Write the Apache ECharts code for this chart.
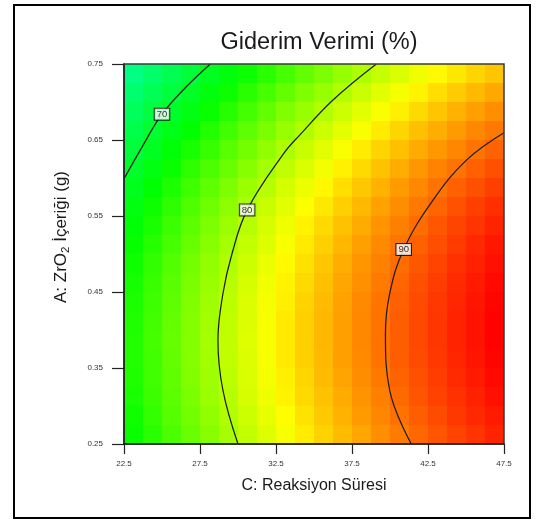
<!DOCTYPE html>
<html>
<head>
<meta charset="utf-8">
<script src="https://cdn.jsdelivr.net/npm/echarts@6/dist/echarts.min.js"></script>
<style>
  html, body { margin: 0; padding: 0; background: #fff; }
  #chart { width: 541px; height: 521px; }
</style>
</head>
<body>
<div id="chart"></div>
<script>
// Grid cell centres: C (reaction time) across, A (ZrO2 content, g) up
const cellTimes = [23.125, 24.375, 25.625, 26.875, 28.125, 29.375, 30.625, 31.875, 33.125, 34.375,
                   35.625, 36.875, 38.125, 39.375, 40.625, 41.875, 43.125, 44.375, 45.625, 46.875];
const cellContents = [0.2625, 0.2875, 0.3125, 0.3375, 0.3625, 0.3875, 0.4125, 0.4375, 0.4625, 0.4875,
                      0.5125, 0.5375, 0.5625, 0.5875, 0.6125, 0.6375, 0.6625, 0.6875, 0.7125, 0.7375];

// Removal efficiency (%) per cell, one row per A level, bottom row first
const removalRows = [
  [73.0, 74.4, 75.8, 77.1, 78.4, 79.7, 80.9, 82.1, 83.2, 84.3, 85.4, 86.4, 87.3, 88.3, 89.1, 90.0, 90.8, 91.5, 92.2, 92.9],
  [73.3, 74.8, 76.2, 77.5, 78.8, 80.1, 81.3, 82.5, 83.6, 84.7, 85.8, 86.8, 87.8, 88.7, 89.6, 90.4, 91.2, 92.0, 92.7, 93.3],
  [73.6, 75.1, 76.5, 77.8, 79.2, 80.4, 81.7, 82.8, 84.0, 85.1, 86.1, 87.1, 88.1, 89.0, 89.9, 90.8, 91.6, 92.3, 93.0, 93.7],
  [73.9, 75.3, 76.7, 78.1, 79.4, 80.6, 81.9, 83.1, 84.2, 85.3, 86.4, 87.4, 88.4, 89.3, 90.2, 91.0, 91.8, 92.6, 93.3, 94.0],
  [74.0, 75.4, 76.8, 78.2, 79.5, 80.8, 82.0, 83.2, 84.4, 85.5, 86.5, 87.6, 88.5, 89.5, 90.4, 91.2, 92.0, 92.8, 93.5, 94.2],
  [74.0, 75.5, 76.9, 78.2, 79.6, 80.8, 82.1, 83.3, 84.4, 85.5, 86.6, 87.6, 88.6, 89.5, 90.4, 91.3, 92.1, 92.9, 93.6, 94.3],
  [73.9, 75.4, 76.8, 78.2, 79.5, 80.8, 82.0, 83.2, 84.4, 85.5, 86.6, 87.6, 88.6, 89.5, 90.4, 91.3, 92.1, 92.9, 93.6, 94.3],
  [73.8, 75.2, 76.6, 78.0, 79.4, 80.6, 81.9, 83.1, 84.2, 85.4, 86.4, 87.5, 88.5, 89.4, 90.3, 91.2, 92.0, 92.8, 93.5, 94.2],
  [73.5, 75.0, 76.4, 77.8, 79.1, 80.4, 81.7, 82.9, 84.0, 85.1, 86.2, 87.3, 88.2, 89.2, 90.1, 91.0, 91.8, 92.6, 93.3, 94.0],
  [73.2, 74.7, 76.1, 77.5, 78.8, 80.1, 81.3, 82.6, 83.7, 84.8, 85.9, 87.0, 88.0, 88.9, 89.8, 90.7, 91.5, 92.3, 93.0, 93.7],
  [72.8, 74.2, 75.6, 77.0, 78.4, 79.7, 80.9, 82.1, 83.3, 84.4, 85.5, 86.6, 87.6, 88.5, 89.4, 90.3, 91.1, 91.9, 92.7, 93.4],
  [72.2, 73.7, 75.1, 76.5, 77.9, 79.2, 80.4, 81.7, 82.8, 84.0, 85.1, 86.1, 87.1, 88.1, 89.0, 89.8, 90.7, 91.5, 92.2, 92.9],
  [71.6, 73.1, 74.5, 75.9, 77.3, 78.6, 79.8, 81.1, 82.2, 83.4, 84.5, 85.5, 86.5, 87.5, 88.4, 89.3, 90.1, 90.9, 91.7, 92.4],
  [70.9, 72.4, 73.8, 75.2, 76.6, 77.9, 79.2, 80.4, 81.6, 82.7, 83.8, 84.9, 85.9, 86.8, 87.8, 88.6, 89.5, 90.3, 91.0, 91.7],
  [70.1, 71.6, 73.0, 74.5, 75.8, 77.1, 78.4, 79.6, 80.8, 81.9, 83.0, 84.1, 85.1, 86.1, 87.0, 87.9, 88.8, 89.5, 90.3, 91.0],
  [69.2, 70.7, 72.2, 73.6, 74.9, 76.3, 77.5, 78.8, 80.0, 81.1, 82.2, 83.3, 84.3, 85.3, 86.2, 87.1, 87.9, 88.7, 89.5, 90.2],
  [68.3, 69.8, 71.2, 72.6, 74.0, 75.3, 76.6, 77.8, 79.0, 80.1, 81.3, 82.3, 83.3, 84.3, 85.3, 86.2, 87.0, 87.8, 88.6, 89.3],
  [67.2, 68.7, 70.1, 71.6, 72.9, 74.2, 75.5, 76.8, 78.0, 79.1, 80.2, 81.3, 82.3, 83.3, 84.2, 85.1, 86.0, 86.8, 87.6, 88.3],
  [66.0, 67.5, 69.0, 70.4, 71.8, 73.1, 74.4, 75.6, 76.8, 78.0, 79.1, 80.2, 81.2, 82.2, 83.1, 84.0, 84.9, 85.7, 86.5, 87.2],
  [64.8, 66.3, 67.8, 69.2, 70.6, 71.9, 73.2, 74.4, 75.6, 76.8, 77.9, 79.0, 80.0, 81.0, 81.9, 82.8, 83.7, 84.5, 85.3, 86.0]
];

// Axis ticks
const timeTicks = [22.5, 27.5, 32.5, 37.5, 42.5, 47.5];
const contentTicks = [0.25, 0.35, 0.45, 0.55, 0.65, 0.75];

// Contour levels and their traced paths as [C, A]
const contourLevels = [70, 80, 90];
const contour70 = [[28.18, 0.75], [26.6, 0.72], [25.0, 0.684], [23.75, 0.643], [22.5, 0.599]];
const contour80 = [[39.1, 0.75], [36.25, 0.7026], [34.06, 0.6565], [33.0, 0.632],
                   [30.6, 0.5577], [29.6, 0.5], [29.01, 0.448], [28.68, 0.386], [29.01, 0.3205], [30.0, 0.25]];
const contour90 = [[47.5, 0.6595], [45.03, 0.6235], [42.83, 0.571], [40.9, 0.506], [39.98, 0.448],
                   [39.7, 0.395], [39.98, 0.3205], [41.4, 0.25]];
const contourLabelAt = [[25.0, 0.684], [30.6, 0.558], [40.9, 0.506]];

const cells = [];
removalRows.forEach((row, r) => row.forEach((v, c) => cells.push([cellTimes[c], cellContents[r], v])));
const halfW = (cellTimes[1] - cellTimes[0]) / 2;
const halfH = (cellContents[1] - cellContents[0]) / 2;

const font = "'Liberation Sans', Arial, Helvetica, sans-serif";

const contourLine = (data) => ({
  type: 'line', data: data, smooth: 0.4, showSymbol: false, silent: true, z: 3,
  lineStyle: { color: '#1e1e1e', width: 1.25 }
});

const chart = echarts.init(document.getElementById('chart'), null, { renderer: 'canvas' });
chart.setOption({
  animation: false,
  backgroundColor: '#fff',
  title: {
    text: 'Giderim Verimi (%)', left: 314, top: 26, textAlign: 'center',
    textStyle: { fontFamily: font, fontSize: 23.5, fontWeight: 'normal', color: '#1a1a1a' }
  },
  grid: { left: 124, top: 64, width: 380, height: 380, show: true, borderColor: '#3a3a3a', borderWidth: 1.5, z: 4 },
  visualMap: {
    show: false, type: 'continuous', min: 56.25, max: 94.4, dimension: 2, seriesIndex: 0,
    inRange: { color: ['#00ffff', '#00ffb6', '#00ff5b', '#00ff00', '#80ff00', '#ffff00', '#ff8000', '#ff0000'] }
  },
  xAxis: {
    type: 'value', min: 22.5, max: 47.5, z: 5,
    name: 'C: Reaksiyon Süresi', nameLocation: 'middle', nameGap: 34,
    nameTextStyle: { fontFamily: font, fontSize: 16, color: '#1a1a1a' },
    axisLine: { show: true, lineStyle: { color: '#222', width: 1.5 } },
    axisTick: { show: true, length: 10, customValues: timeTicks, lineStyle: { color: '#222', width: 1.2 } },
    axisLabel: { customValues: timeTicks, margin: 16, fontSize: 8, color: '#333', fontFamily: font,
                 formatter: v => v.toFixed(1) },
    splitLine: { show: false }
  },
  yAxis: {
    type: 'value', min: 0.25, max: 0.75, z: 5,
    axisLine: { show: true, lineStyle: { color: '#222', width: 1.5 } },
    axisTick: { show: true, length: 12, customValues: contentTicks, lineStyle: { color: '#222', width: 1.2 } },
    axisLabel: { customValues: contentTicks, margin: 21, fontSize: 8, color: '#333', fontFamily: font,
                 formatter: v => v.toFixed(2) },
    splitLine: { show: false }
  },
  graphic: [
    { type: 'rect', z: 10, shape: { x: 14, y: 5, width: 516, height: 513 },
      style: { fill: 'none', stroke: '#000', lineWidth: 2 } },
    { type: 'text', x: 61, y: 237, rotation: Math.PI / 2,
      style: {
        text: '{n|A: ZrO}{s|2}{n| İçeriği (g)}', align: 'center', verticalAlign: 'middle', fill: '#1a1a1a',
        rich: {
          n: { fontFamily: font, fontSize: 17, lineHeight: 21, verticalAlign: 'middle', fill: '#1a1a1a' },
          s: { fontFamily: font, fontSize: 11.5, lineHeight: 13, verticalAlign: 'bottom', fill: '#1a1a1a' }
        }
      } }
  ],
  series: [
    {
      type: 'custom', data: cells, encode: { x: 0, y: 1 }, z: 1, silent: true,
      renderItem: (params, api) => {
        const p0 = api.coord([api.value(0) - halfW, api.value(1) + halfH]);
        const p1 = api.coord([api.value(0) + halfW, api.value(1) - halfH]);
        return {
          type: 'rect',
          shape: { x: p0[0], y: p0[1], width: p1[0] - p0[0], height: p1[1] - p0[1] },
          style: { fill: api.visual('color') }
        };
      }
    },
    contourLine(contour70),
    contourLine(contour80),
    contourLine(contour90),
    {
      type: 'scatter', z: 6, silent: true, symbolSize: 0,
      data: contourLabelAt.map((p, i) => ({ value: p, name: String(contourLevels[i]) })),
      label: {
        show: true, position: 'inside', formatter: '{b}', fontFamily: font, fontSize: 9.5, color: '#000',
        backgroundColor: '#fff', borderColor: '#000', borderWidth: 1, padding: [1, 2, 0, 2]
      }
    }
  ]
});
</script>
</body>
</html>
